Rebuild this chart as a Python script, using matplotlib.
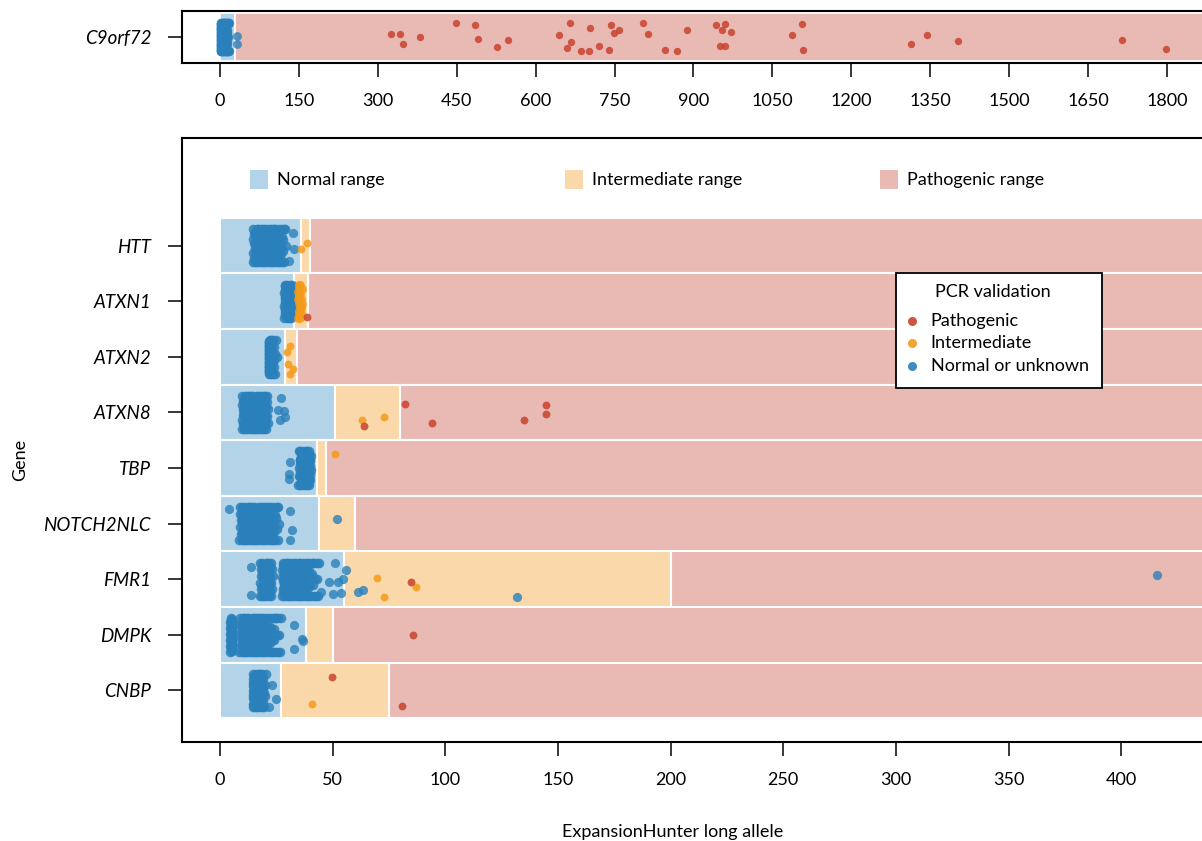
import numpy as np
import matplotlib
matplotlib.use('Agg')
import matplotlib.pyplot as plt
from matplotlib.patches import Rectangle
from matplotlib.lines import Line2D

plt.rcParams['font.family'] = ['Lato', 'DejaVu Sans']
plt.rcParams['font.size'] = 13

## colours
col_norm_band = '#b3d4e8'
col_int_band = '#fbd8a9'
col_path_band = '#e9b9b4'
col_norm_pt = '#2a80bb'
col_int_pt = '#f49a1a'
col_path_pt = '#c8432d'

## ranges per gene (bottom panel, top to bottom)
genes = ['HTT', 'ATXN1', 'ATXN2', 'ATXN8', 'TBP', 'NOTCH2NLC', 'FMR1', 'DMPK', 'CNBP']
normal_hi = [36, 33, 29, 51, 43, 44, 55, 38, 27]
path_lo = [40, 39, 34, 80, 47, 60, 200, 50, 75]

# C9orf72 (top panel)
c9_normal_hi = 29
c9_path_lo = 29

## bulk of the alleles: repeat length and number of samples
c9_len = [2, 3, 4, 5, 6, 7, 8, 9, 10, 11, 12, 13, 14, 15, 16, 17]
c9_cnt = [40, 10, 6, 28, 14, 16, 24, 12, 10, 8, 6, 5, 4, 3, 2, 2]

htt_len = [15, 16, 17, 18, 19, 20, 21, 22, 23, 24, 25, 26, 27, 28, 29]
htt_cnt = [8, 14, 24, 30, 28, 24, 18, 14, 12, 10, 8, 6, 5, 4, 3]
atxn1_len = [29, 30, 31, 32]
atxn1_cnt = [20, 34, 24, 10]
atxn1_int_len = [35, 36]
atxn1_int_cnt = [10, 8]
atxn2_len = [22, 23, 24, 25]
atxn2_cnt = [60, 10, 6, 3]
atxn8_len = [10, 11, 12, 13, 14, 15, 16, 17, 18, 19, 20, 21]
atxn8_cnt = [8, 12, 16, 20, 22, 20, 18, 16, 14, 12, 10, 6]
tbp_len = [35, 36, 37, 38, 39, 40]
tbp_cnt = [5, 20, 40, 30, 15, 8]
notch_len = [9, 10, 11, 12, 13, 14, 15, 16, 17, 18, 19, 20, 21, 22, 23, 24, 25, 26]
notch_cnt = [6, 10, 14, 18, 20, 22, 22, 20, 18, 16, 14, 12, 10, 8, 6, 5, 4, 3]
fmr1_len = [18, 19, 20, 21, 22, 23, 28, 29, 30, 31, 32, 33, 34, 35, 36, 37, 38, 39, 40, 41, 42, 43, 44]
fmr1_cnt = [6, 8, 14, 10, 8, 6, 10, 30, 36, 20, 12, 10, 8, 7, 6, 6, 5, 5, 4, 4, 3, 3, 2]
dmpk_len = [5, 9, 10, 11, 12, 13, 14, 15, 16, 17, 18, 19, 20, 21, 22, 23, 24, 25, 26, 27]
dmpk_cnt = [40, 6, 12, 20, 24, 22, 18, 14, 12, 10, 8, 8, 6, 5, 5, 4, 4, 3, 3, 2]
cnbp_len = [15, 16, 17, 18, 19, 20]
cnbp_cnt = [20, 30, 25, 15, 8, 4]

bulk = {'HTT': (htt_len, htt_cnt), 'ATXN1': (atxn1_len, atxn1_cnt), 'ATXN2': (atxn2_len, atxn2_cnt),
        'ATXN8': (atxn8_len, atxn8_cnt), 'TBP': (tbp_len, tbp_cnt), 'NOTCH2NLC': (notch_len, notch_cnt),
        'FMR1': (fmr1_len, fmr1_cnt), 'DMPK': (dmpk_len, dmpk_cnt), 'CNBP': (cnbp_len, cnbp_cnt)}

## single calls outside the clusters: gene, long allele, vertical jitter
norm_gene = ['HTT', 'HTT', 'HTT', 'ATXN8', 'ATXN8', 'ATXN8', 'ATXN8', 'ATXN8', 'TBP', 'TBP', 'TBP',
             'NOTCH2NLC', 'NOTCH2NLC', 'NOTCH2NLC', 'NOTCH2NLC', 'NOTCH2NLC',
             'FMR1', 'FMR1', 'FMR1', 'FMR1', 'FMR1', 'FMR1', 'FMR1', 'FMR1', 'FMR1', 'FMR1', 'FMR1', 'FMR1',
             'FMR1', 'FMR1', 'DMPK', 'DMPK', 'DMPK', 'DMPK', 'CNBP', 'CNBP', 'CNBP']
norm_val = [32.5, 32.8, 30.6, 26.9, 25.9, 28.4, 29.0, 26.6, 31.0, 30.8, 30.8,
            4.0, 31.0, 32.0, 31.0, 51.9,
            13.8, 13.8, 50.9, 55.8, 54.7, 53.8, 50.0, 45.0, 61.4, 63.6, 52.5, 48.5,
            132.0, 415.7, 33.0, 36.3, 37.0, 32.8, 23.2, 24.9, 21.9]
norm_jit = [0.22, -0.06, -0.28, 0.26, 0.04, 0.03, -0.09, -0.14, 0.11, -0.10, -0.19,
            0.26, 0.22, -0.11, -0.29, 0.08,
            0.22, -0.29, 0.29, 0.17, 0.0, -0.25, -0.26, -0.22, -0.23, -0.20, -0.05, -0.05,
            -0.31, 0.07, 0.17, -0.08, -0.11, -0.25, 0.10, -0.15, -0.29]

int_gene = ['HTT', 'HTT', 'ATXN2', 'ATXN2', 'ATXN2', 'ATXN2', 'ATXN2', 'ATXN8', 'ATXN8', 'TBP',
            'FMR1', 'FMR1', 'FMR1', 'CNBP']
int_val = [38.8, 36.0, 31.0, 29.7, 30.3, 32.4, 31.0, 62.9, 72.9, 50.9, 69.8, 72.8, 87.0, 41.0]
int_jit = [0.05, -0.06, 0.19, 0.08, -0.12, -0.22, -0.30, -0.13, -0.08, 0.25, 0.02, -0.31, -0.13, -0.24]

path_gene = ['ATXN1', 'ATXN8', 'ATXN8', 'ATXN8', 'ATXN8', 'ATXN8', 'ATXN8', 'FMR1', 'DMPK', 'CNBP', 'CNBP']
path_val = [38.8, 63.9, 82.1, 94.0, 134.9, 144.7, 144.7, 84.9, 85.8, 49.9, 80.9]
path_jit = [-0.28, -0.24, 0.16, -0.18, -0.14, 0.13, -0.03, -0.05, 0.0, 0.25, -0.28]

# C9orf72 calls
c9_norm_val = [33, 33]
c9_norm_jit = [0.03, -0.15]
c9_path_val = [325, 343, 347, 381, 448, 484, 490, 527, 547, 644, 666, 668, 660, 686, 701, 703, 720,
               739, 743, 749, 758, 804, 813, 846, 869, 887, 942, 959, 955, 971, 951, 959, 1088, 1107,
               1108, 1314, 1343, 1403, 1714, 1798]
c9_path_jit = [0.07, 0.07, -0.14, 0.01, 0.30, 0.25, -0.04, -0.21, -0.07, 0.05, 0.30, -0.10, -0.22,
               -0.29, -0.29, 0.20, -0.18, -0.26, 0.25, 0.09, 0.15, 0.30, 0.06, -0.28, -0.30, 0.14,
               0.25, 0.28, 0.15, 0.11, -0.19, -0.19, 0.05, 0.28, -0.28, -0.15, 0.05, -0.08, -0.05, -0.25]


def spread(lens, cnts, row, half=0.3):
    # lay the alleles of each length out in a column so the cluster reads as a block
    dx = np.array([-0.4, 0.15, -0.15, 0.4, 0.0, -0.28, 0.28])
    xs, ys = [], []
    for L, n in zip(lens, cnts):
        yy = np.linspace(-half, half, n) if n > 1 else np.array([0.0])
        xs.extend(L + dx[np.arange(n) % 7])
        ys.extend(row + yy)
    return xs, ys


W, H = 1202, 841
fig = plt.figure(figsize=(W / 100, H / 100), dpi=100)

def px_box(left, top, right, bottom):
    return [left / W, 1 - bottom / H, (right - left) / W, (bottom - top) / H]

ax_top = fig.add_axes(px_box(182.3, 10.7, 1215, 62.7))
ax = fig.add_axes(px_box(181.7, 138, 1215, 741.7))

for a in (ax_top, ax):
    for s in a.spines.values():
        s.set_linewidth(1.5)
    a.tick_params(direction='out', length=10, width=1.1, pad=12, labelsize=13)

## top panel
top_right = (1215 - 220) / 0.5261
ax_top.barh(1, c9_normal_hi, left=0, height=1, color=col_norm_band, edgecolor='white', linewidth=1.3)
ax_top.barh(1, top_right + 50 - c9_path_lo, left=c9_path_lo, height=1, color=col_path_band,
            edgecolor='white', linewidth=1.3)
xs, ys = spread(c9_len, c9_cnt, 1)
ax_top.scatter(xs, ys, s=46, color=col_norm_pt, alpha=0.85, linewidths=0, zorder=3)
ax_top.scatter(c9_norm_val, 1 + np.array(c9_norm_jit), s=40, color=col_norm_pt, alpha=0.8,
               linewidths=0, zorder=3)
ax_top.scatter(c9_path_val, 1 + np.array(c9_path_jit), s=28, color=col_path_pt, alpha=0.85,
               linewidths=0, zorder=4)
ax_top.set_xlim((182.3 - 220) / 0.5261, top_right)
ax_top.set_ylim(0.464, 1.555)
ax_top.set_xticks(np.arange(0, 1801, 150))
ax_top.set_yticks([1])
ax_top.set_yticklabels(['C9orf72'], style='italic', fontsize=13.5)

## bottom panel
rows = np.arange(len(genes), 0, -1)
row_of = dict(zip(genes, rows))
bot_right = (1215 - 220) / 2.2533
inter_w = [p - n for n, p in zip(normal_hi, path_lo)]
ax.barh(rows, normal_hi, left=0, height=1, color=col_norm_band, edgecolor='white', linewidth=1.5)
ax.barh(rows, inter_w, left=normal_hi, height=1, color=col_int_band, edgecolor='white', linewidth=1.5)
ax.barh(rows, [bot_right + 20 - p for p in path_lo], left=path_lo, height=1, color=col_path_band,
        edgecolor='white', linewidth=1.5)

for g in genes:
    xs, ys = spread(bulk[g][0], bulk[g][1], row_of[g])
    ax.scatter(xs, ys, s=48, color=col_norm_pt, alpha=0.85, linewidths=0, zorder=3)
ax.scatter(norm_val, [row_of[g] + j for g, j in zip(norm_gene, norm_jit)], s=44, color=col_norm_pt,
           alpha=0.8, linewidths=0, zorder=3)
xs, ys = spread(atxn1_int_len, atxn1_int_cnt, row_of['ATXN1'])
ax.scatter(xs, ys, s=40, color=col_int_pt, alpha=0.85, linewidths=0, zorder=4)
ax.scatter(int_val, [row_of[g] + j for g, j in zip(int_gene, int_jit)], s=32, color=col_int_pt,
           alpha=0.85, linewidths=0, zorder=4)
ax.scatter(path_val, [row_of[g] + j for g, j in zip(path_gene, path_jit)], s=32, color=col_path_pt,
           alpha=0.85, linewidths=0, zorder=5)

ax.set_xlim((181.7 - 220) / 2.2533, bot_right)
ax.set_ylim(0.079, 10.937)
ax.set_xticks(np.arange(0, 401, 50))
ax.set_yticks(rows)
ax.set_yticklabels(genes, style='italic', fontsize=13.5)

# range key above the rows
key_y = 10.19
for x0, lab, c in [(13.3, 'Normal range', col_norm_band), (153.1, 'Intermediate range', col_int_band),
                   (292.9, 'Pathogenic range', col_path_band)]:
    ax.add_patch(Rectangle((x0, key_y - 0.171), 8.1, 0.342, color=c, linewidth=0))
    ax.text(x0 + 12.1, key_y, lab, va='center', ha='left', fontsize=13)

# PCR validation key
fig.patches.append(Rectangle((895.7 / W, 1 - 387.7 / H), (1101.7 - 895.7) / W, (387.7 - 273.3) / H,
                             transform=fig.transFigure, facecolor='white', edgecolor='black',
                             linewidth=1.3, zorder=10))
fig.text(992.5 / W, 1 - 291.7 / H, 'PCR validation', ha='center', va='center', fontsize=13, zorder=11)
for yy, lab, c in [(321, 'Pathogenic', col_path_pt), (343.3, 'Intermediate', col_int_pt),
                   (365.7, 'Normal or unknown', col_norm_pt)]:
    fig.lines.append(Line2D([912.3 / W], [1 - yy / H], marker='o', markersize=6.5, color=c, alpha=0.9,
                            markeredgewidth=0, linestyle='none', transform=fig.transFigure, zorder=11))
    fig.text(930.7 / W, 1 - yy / H, lab, ha='left', va='center', fontsize=13, zorder=11)

fig.text(673 / W, 1 - 832 / H, 'ExpansionHunter long allele', ha='center', va='center', fontsize=13)
fig.text(20 / W, 1 - 460 / H, 'Gene', ha='center', va='center', rotation=90, fontsize=13)

fig.savefig('out.png', dpi=100)
